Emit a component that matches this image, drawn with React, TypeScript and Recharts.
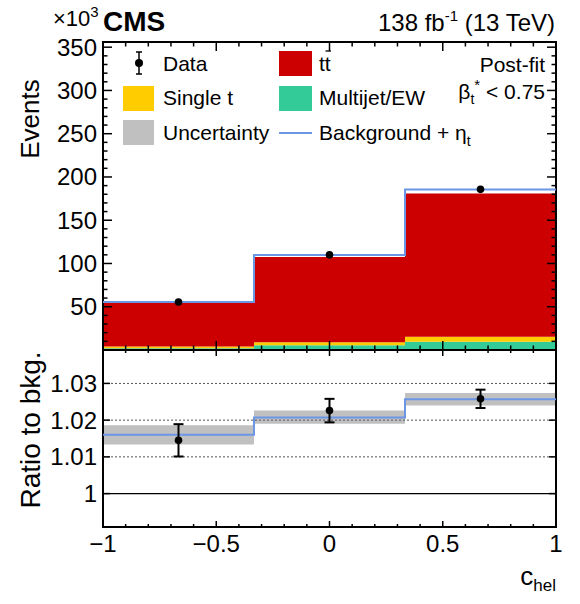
import { Area, ComposedChart, ErrorBar, Line, ReferenceArea, ReferenceLine, Scatter, XAxis, YAxis } from "recharts";

// bins in c_hel, events in units of 10^3
const binEdges = [-1, -1 / 3, 1 / 3, 1];
const binCenters = [-2 / 3, 0, 2 / 3];
const multijetEW = [2.0, 5.6, 9.4];
const singleTop = [2.0, 3.5, 5.8];
const ttbar = [50.6, 98.5, 165.8];
const bkgPlusEta = [55.5, 109.8, 185.5];
const dataEvents = [55.4, 110.0, 185.7];

// ratio to background
const ratioEta = [1.016, 1.0207, 1.0257];
const ratioUncLo = [1.0134, 1.019, 1.024];
const ratioUncHi = [1.0186, 1.0226, 1.0274];
const ratioData = [1.0145, 1.0226, 1.0258];
const ratioDataErr = [0.0044, 0.0032, 0.0025];

const eventTicks = [0, 10, 20, 30, 40, 50, 60, 70, 80, 90, 100, 110, 120, 130, 140, 150, 160, 170, 180, 190, 200, 210, 220, 230, 240, 250, 260, 270, 280, 290, 300, 310, 320, 330, 340, 350];
const eventLabels = [50, 100, 150, 200, 250, 300, 350];
const ratioTicks = [1, 1.01, 1.02, 1.03];
const ratioGrid = [1.01, 1.02, 1.03];
const xTicks = [-1, -0.9, -0.8, -0.7, -0.6, -0.5, -0.4, -0.3, -0.2, -0.1, 0, 0.1, 0.2, 0.3, 0.4, 0.5, 0.6, 0.7, 0.8, 0.9, 1];
const xLabels = ["−1", "−0.5", "0", "0.5", "1"];
const xLabelValues = [-1, -0.5, 0, 0.5, 1];

const COLORS = {
  ttbar: "#cc0000",
  single: "#ffcc00",
  multijet: "#33cc99",
  unc: "#c0c0c0",
  eta: "#6b96e6",
};

const FONT = "'Liberation Sans', Arial, Helvetica, sans-serif";
const PLOT_W = 453;
const UPPER_H = 308;
const LOWER_H = 177;
const UPPER_DOMAIN: [number, number] = [0, 356];
const LOWER_DOMAIN: [number, number] = [0.9909, 1.0391];

const stackRows = binEdges.map((x, i) => {
  const b = Math.min(i, 2);
  return { x, mj: multijetEW[b], st: singleTop[b], tt: ttbar[b], total: bkgPlusEta[b] };
});
const dataRows = binCenters.map((x, i) => ({ x, y: dataEvents[i] }));

const ratioRows = binEdges.map((x, i) => {
  const b = Math.min(i, 2);
  return { x, eta: ratioEta[b], band: [ratioUncLo[b], ratioUncHi[b]] };
});
const ratioDataRows = binCenters.map((x, i) => ({ x, y: ratioData[i], err: ratioDataErr[i] }));

const isMajorX = (v: number) => Math.abs(v * 2 - Math.round(v * 2)) < 1e-6;

const EventTick = (props: any) => {
  const { x, y, payload } = props;
  const v = payload.value;
  const major = v % 50 === 0;
  const len = major ? 9 : 4.5;
  return (
    <g>
      <line x1={x} x2={x + len} y1={y} y2={y} stroke="#000" strokeWidth={1.5} />
      <line x1={x + PLOT_W} x2={x + PLOT_W - len} y1={y} y2={y} stroke="#000" strokeWidth={1.5} />
      {major && eventLabels.includes(v) && (
        <text x={x - 6} y={y} textAnchor="end" dominantBaseline="central" fontSize={24} fill="#000">
          {v}
        </text>
      )}
    </g>
  );
};

const UpperXTick = (props: any) => {
  const { x, y, payload } = props;
  const len = isMajorX(payload.value) ? 9 : 4.5;
  return (
    <g>
      <line x1={x} x2={x} y1={y} y2={y - len} stroke="#000" strokeWidth={1.5} />
      <line x1={x} x2={x} y1={y - UPPER_H} y2={y - UPPER_H + len} stroke="#000" strokeWidth={1.5} />
    </g>
  );
};

const RatioTick = (props: any) => {
  const { x, y, payload } = props;
  const v = payload.value;
  return (
    <g>
      <line x1={x} x2={x + 7} y1={y} y2={y} stroke="#000" strokeWidth={1.5} />
      <line x1={x + PLOT_W} x2={x + PLOT_W - 7} y1={y} y2={y} stroke="#000" strokeWidth={1.5} />
      <text x={x - 6} y={y} textAnchor="end" dominantBaseline="central" fontSize={24} fill="#000">
        {v === 1 ? "1" : v.toFixed(2)}
      </text>
    </g>
  );
};

const LowerXTick = (props: any) => {
  const { x, y, payload } = props;
  const v = payload.value;
  const major = isMajorX(v);
  const len = major ? 6 : 3;
  const idx = xLabelValues.findIndex((t) => Math.abs(t - v) < 1e-6);
  return (
    <g>
      <line x1={x} x2={x} y1={y} y2={y - len} stroke="#000" strokeWidth={1.5} />
      <line x1={x} x2={x} y1={y - LOWER_H} y2={y - LOWER_H + len} stroke="#000" strokeWidth={1.5} />
      {idx >= 0 && (
        <text x={x} y={y + 25} textAnchor="middle" fontSize={24} fill="#000">
          {xLabels[idx]}
        </text>
      )}
    </g>
  );
};

const DataDot = (props: any) => <circle cx={props.cx} cy={props.cy} r={3.8} fill="#000" />;

function Overlay() {
  return (
    <svg width={580} height={604} style={{ position: "absolute", left: 0, top: 0, pointerEvents: "none", fontFamily: FONT }}>
      <text x={53} y={26} fontSize={22}>
        ×10<tspan fontSize={15} dy={-9}>3</tspan>
      </text>
      <text x={103} y={31} fontSize={28} fontWeight="bold">
        CMS
      </text>
      <text x={555} y={31} fontSize={24} textAnchor="end">
        138 fb<tspan fontSize={15} dy={-10}>-1</tspan>
        <tspan dy={10}> (13 TeV)</tspan>
      </text>
      <text x={545} y={72} fontSize={21} textAnchor="end">
        Post-fit
      </text>
      <text x={545} y={99} fontSize={21} textAnchor="end">
        β<tspan fontSize={14} dy={5}>t</tspan>
        <tspan fontSize={15} dy={-14}>*</tspan>
        <tspan dy={9}>{" < 0.75"}</tspan>
      </text>

      {/* legend */}
      <line x1={139} x2={139} y1={52} y2={74} stroke="#000" strokeWidth={1.5} />
      <line x1={136} x2={142} y1={52} y2={52} stroke="#000" strokeWidth={1.5} />
      <line x1={136} x2={142} y1={74} y2={74} stroke="#000" strokeWidth={1.5} />
      <circle cx={139} cy={63} r={4} fill="#000" />
      <text x={163} y={70.5} fontSize={21}>Data</text>

      <rect x={279} y={51} width={33} height={25} fill={COLORS.ttbar} />
      <text x={319} y={70.5} fontSize={21}>tt</text>
      <line x1={325.5} x2={331} y1={51} y2={51} stroke="#000" strokeWidth={1.3} />

      <rect x={123} y={86} width={31} height={25} fill={COLORS.single} />
      <text x={163} y={105} fontSize={21}>Single t</text>

      <rect x={279} y={86} width={33} height={25} fill={COLORS.multijet} />
      <text x={319} y={105} fontSize={21}>Multijet/EW</text>

      <rect x={123} y={120} width={31} height={25} fill={COLORS.unc} />
      <text x={163} y={139.5} fontSize={21}>Uncertainty</text>

      <line x1={279} x2={312} y1={133} y2={133} stroke={COLORS.eta} strokeWidth={2} />
      <text x={319} y={139.5} fontSize={21}>
        Background + η<tspan fontSize={14} dy={6}>t</tspan>
      </text>

      {/* axis titles */}
      <text transform="rotate(-90 39 119)" x={39} y={119} textAnchor="middle" fontSize={26}>
        Events
      </text>
      <text transform="rotate(-90 40 430)" x={40} y={430} textAnchor="middle" fontSize={28}>
        Ratio to bkg.
      </text>
      <text x={556} y={585} textAnchor="end" fontSize={26}>
        c<tspan fontSize={17} dy={6}>hel</tspan>
      </text>
    </svg>
  );
}

export default function App() {
  return (
    <div style={{ position: "absolute", left: 0, top: 0, width: 580, height: 604, background: "#fff", fontFamily: FONT }}>
      <div style={{ position: "absolute", left: 0, top: 0 }}>
        <ComposedChart width={580} height={351} data={stackRows} margin={{ top: 42, right: 24, bottom: 0, left: 0 }}>
          <Area type="stepAfter" dataKey="mj" stackId="s" fill={COLORS.multijet} fillOpacity={1} stroke="none" isAnimationActive={false} />
          <Area type="stepAfter" dataKey="st" stackId="s" fill={COLORS.single} fillOpacity={1} stroke="none" isAnimationActive={false} />
          <Area type="stepAfter" dataKey="tt" stackId="s" fill={COLORS.ttbar} fillOpacity={1} stroke="none" isAnimationActive={false} />
          <Line type="stepAfter" dataKey="total" stroke={COLORS.eta} strokeWidth={2} dot={false} isAnimationActive={false} />
          <Scatter data={dataRows} dataKey="y" shape={DataDot} isAnimationActive={false} />
          <ReferenceArea x1={-1} x2={1} y1={UPPER_DOMAIN[0]} y2={UPPER_DOMAIN[1]} fill="none" stroke="#000" strokeWidth={2} ifOverflow="visible" />
          <XAxis
            dataKey="x"
            type="number"
            domain={[-1, 1]}
            ticks={xTicks}
            interval={0}
            height={1}
            tickSize={0}
            tickMargin={0}
            axisLine={false}
            tickLine={false}
            tick={UpperXTick}
          />
          <YAxis
            type="number"
            domain={UPPER_DOMAIN}
            ticks={eventTicks}
            interval={0}
            width={103}
            tickSize={0}
            tickMargin={0}
            axisLine={false}
            tickLine={false}
            tick={EventTick}
          />
        </ComposedChart>
      </div>
      <div style={{ position: "absolute", left: 0, top: 350 }}>
        <ComposedChart width={580} height={254} data={ratioRows} margin={{ top: 0, right: 24, bottom: 37, left: 0 }}>
          <Area type="stepAfter" dataKey="band" fill={COLORS.unc} fillOpacity={1} stroke="none" isAnimationActive={false} />
          {ratioGrid.map((v) => (
            <ReferenceLine key={v} y={v} stroke="#555" strokeDasharray="2 2" strokeWidth={1} />
          ))}
          <ReferenceLine y={1} stroke="#000" strokeWidth={1.2} />
          <Line type="stepAfter" dataKey="eta" stroke={COLORS.eta} strokeWidth={2} dot={false} isAnimationActive={false} />
          <Scatter data={ratioDataRows} dataKey="y" shape={DataDot} isAnimationActive={false}>
            <ErrorBar dataKey="err" direction="y" width={5} stroke="#000" strokeWidth={2} />
          </Scatter>
          <ReferenceArea x1={-1} x2={1} y1={LOWER_DOMAIN[0]} y2={LOWER_DOMAIN[1]} fill="none" stroke="#000" strokeWidth={2} ifOverflow="visible" />
          <XAxis
            dataKey="x"
            type="number"
            domain={[-1, 1]}
            ticks={xTicks}
            interval={0}
            height={40}
            tickSize={0}
            tickMargin={0}
            axisLine={false}
            tickLine={false}
            tick={LowerXTick}
          />
          <YAxis
            type="number"
            domain={LOWER_DOMAIN}
            ticks={ratioTicks}
            interval={0}
            width={103}
            tickSize={0}
            tickMargin={0}
            axisLine={false}
            tickLine={false}
            tick={RatioTick}
            allowDataOverflow
          />
        </ComposedChart>
      </div>
      <Overlay />
    </div>
  );
}
